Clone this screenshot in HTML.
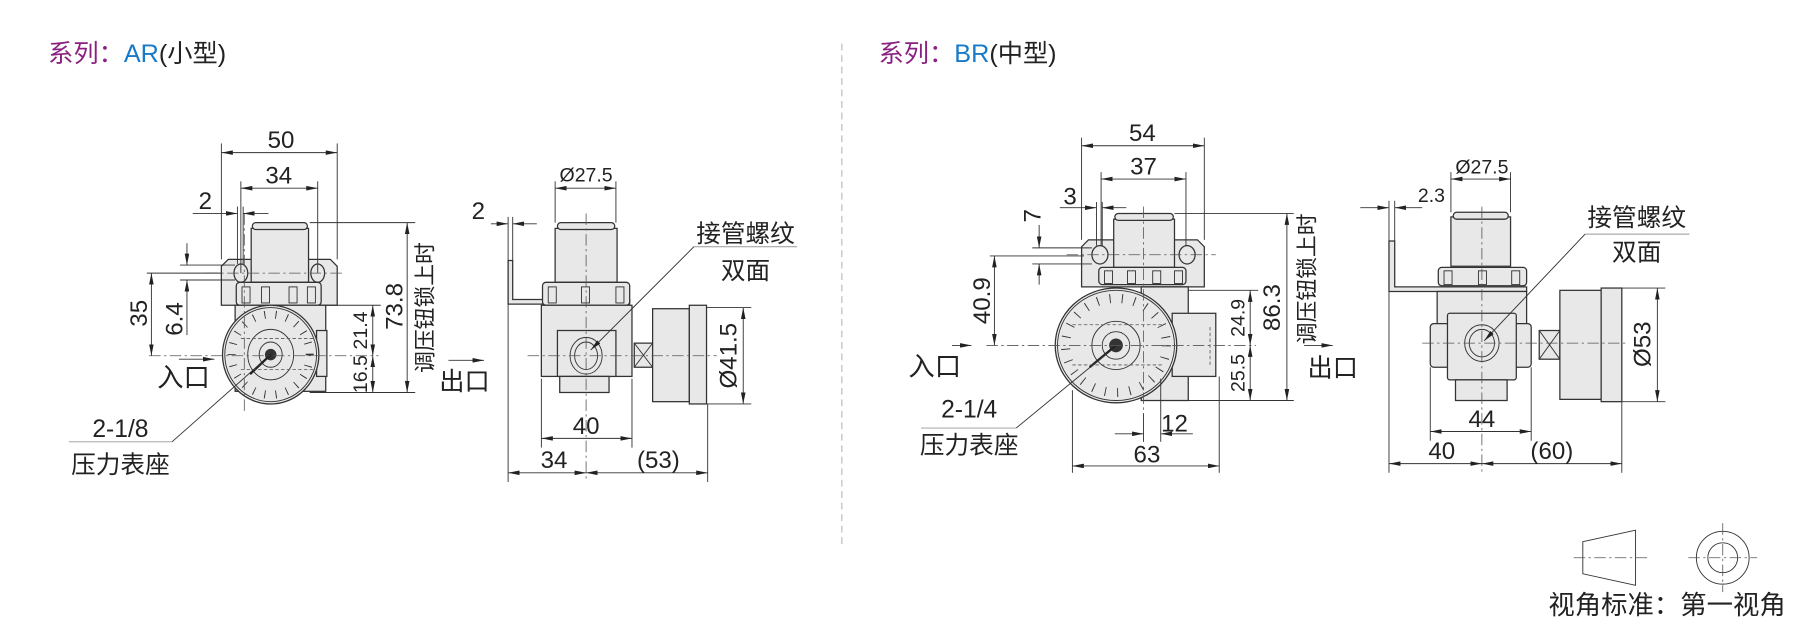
<!DOCTYPE html>
<html><head><meta charset="utf-8"><style>
html,body{margin:0;padding:0;background:#fff;}
svg{display:block;}
text{font-family:"Liberation Sans","Noto Sans CJK SC",sans-serif;fill:#222;}
.d{font-size:21px;}
.s{font-size:17px;}
.c{font-size:21.5px;}
.p{fill:#e8e8e8;stroke:#333;stroke-width:1.1;}
.l{stroke:#333;stroke-width:0.8;fill:none;}
.cl{stroke:#555;stroke-width:0.7;stroke-dasharray:10 3 2 3;fill:none;}
.hd{stroke:#555;stroke-width:0.7;stroke-dasharray:3 2;fill:none;}
</style></head><body>
<svg width="1795" height="622" viewBox="0 0 1565 542" preserveAspectRatio="none" xmlns="http://www.w3.org/2000/svg">
<defs>
<marker id="a" viewBox="0 0 10 4" refX="10" refY="2" markerWidth="10" markerHeight="4" orient="auto-start-reverse" markerUnits="userSpaceOnUse"><path d="M0,0L10,2L0,4z" fill="#222"/></marker>
</defs>
<text x="42" y="54" style="font-size:22px"><tspan style="fill:#8a2080">系列：</tspan><tspan style="fill:#1a7ac8">AR</tspan>(小型)</text>
<text x="766" y="54" style="font-size:22px"><tspan style="fill:#8a2080">系列：</tspan><tspan style="fill:#1a7ac8">BR</tspan>(中型)</text>
<line x1="734" y1="38" x2="734" y2="478" stroke="#aaa" stroke-width="0.8" stroke-dasharray="6 4"/>

<!-- ===== AR FRONT ===== -->
<g>
<path class="p" d="M193,266 V232 L199,226 H288 L294,232 V266 Z"/>
<ellipse cx="210" cy="238" rx="6" ry="8" class="p"/><ellipse cx="277" cy="238" rx="6" ry="8" class="p"/>
<rect class="p" x="219" y="199" width="50" height="47"/>
<rect class="p" x="220" y="194" width="48" height="6" rx="3"/>
<rect class="p" x="206" y="246" width="74" height="20" rx="3"/>
<g class="l"><rect x="211" y="250" width="7" height="14"/><rect x="228" y="250" width="7" height="14"/><rect x="252" y="250" width="7" height="14"/><rect x="268" y="250" width="7" height="14"/></g>
<rect class="p" x="205" y="266" width="79" height="75"/>
<rect class="p" x="276" y="288" width="9" height="40"/>
<ellipse class="p" cx="236" cy="309" rx="42" ry="43"/>
<ellipse class="l" cx="236" cy="309" rx="40" ry="41"/>
<ellipse cx="236" cy="309" rx="34" ry="35" fill="none" stroke="#333" stroke-width="7" stroke-dasharray="0.8 9"/>
<ellipse class="l" cx="236" cy="309" rx="20" ry="22"/>
<ellipse class="l" cx="236" cy="309" rx="10" ry="11"/>
<circle cx="236" cy="309" r="5" fill="#333"/>
<line x1="236" y1="309" x2="218" y2="326" stroke="#222" stroke-width="2"/>
<line class="hd" x1="210" y1="295" x2="275" y2="295"/><line class="hd" x1="210" y1="322" x2="275" y2="322"/>
<line class="cl" x1="213" y1="186" x2="213" y2="358"/>
<line class="cl" x1="130" y1="310" x2="330" y2="310"/>
<line class="cl" x1="180" y1="238" x2="300" y2="238"/>
<g class="l">
<line x1="193" y1="125" x2="193" y2="226"/><line x1="294" y1="125" x2="294" y2="226"/>
<line x1="193" y1="133" x2="294" y2="133" marker-start="url(#a)" marker-end="url(#a)"/>
<line x1="210" y1="158" x2="210" y2="238"/><line x1="277" y1="158" x2="277" y2="238"/>
<line x1="210" y1="164" x2="277" y2="164" marker-start="url(#a)" marker-end="url(#a)"/>
<line x1="207" y1="180" x2="207" y2="230"/><line x1="212" y1="180" x2="212" y2="230"/>
<line x1="168" y1="186" x2="207" y2="186" marker-end="url(#a)"/><line x1="234" y1="186" x2="212" y2="186" marker-end="url(#a)"/>
<line x1="157" y1="231" x2="205" y2="231"/><line x1="157" y1="244" x2="205" y2="244"/>
<line x1="163" y1="212" x2="163" y2="231" marker-end="url(#a)"/><line x1="163" y1="292" x2="163" y2="244" marker-end="url(#a)"/>
<line x1="128" y1="238" x2="193" y2="238"/>
<line x1="132" y1="238" x2="132" y2="310" marker-start="url(#a)" marker-end="url(#a)"/>
<line x1="270" y1="194" x2="362" y2="194"/><line x1="284" y1="266" x2="332" y2="266"/><line x1="270" y1="342" x2="362" y2="342"/>
<line x1="325" y1="266" x2="325" y2="310" marker-start="url(#a)" marker-end="url(#a)"/>
<line x1="325" y1="310" x2="325" y2="342" marker-start="url(#a)" marker-end="url(#a)"/>
<line x1="355" y1="194" x2="355" y2="342" marker-start="url(#a)" marker-end="url(#a)"/>
<line x1="156" y1="313" x2="187" y2="313" marker-end="url(#a)"/>
<line x1="391" y1="314" x2="422" y2="314" marker-end="url(#a)"/>
<line x1="60" y1="385" x2="150" y2="385" stroke="#999"/><line x1="150" y1="385" x2="228" y2="316"/>
</g>
<text class="d" x="245" y="129" text-anchor="middle">50</text>
<text class="d" x="243" y="160" text-anchor="middle">34</text>
<text class="d" x="179" y="182" text-anchor="middle">2</text>
<text class="d" transform="translate(128,273) rotate(-90)" text-anchor="middle">35</text>
<text class="d" transform="translate(159,278) rotate(-90)" text-anchor="middle">6.4</text>
<text class="s" transform="translate(320,288) rotate(-90)" text-anchor="middle">21.4</text>
<text class="s" transform="translate(320,326) rotate(-90)" text-anchor="middle">16.5</text>
<text class="d" transform="translate(351,267) rotate(-90)" text-anchor="middle">73.8</text>
<text transform="translate(377,268) rotate(-90)" text-anchor="middle" style="font-size:19px">调压钮锁上时</text>
<text x="160" y="337" text-anchor="middle" style="font-size:23px">入口</text>
<text x="405" y="340" text-anchor="middle" style="font-size:22px">出口</text>
<text class="c" x="105" y="381" text-anchor="middle">2-1/8</text>
<text class="c" x="105" y="412" text-anchor="middle">压力表座</text>
</g>

<!-- ===== AR SIDE ===== -->
<g>
<path class="p" d="M443,227 H447 V261 H549 V265 H443 Z"/>
<rect class="p" x="484" y="199" width="54" height="47"/>
<rect class="p" x="486" y="194" width="50" height="6" rx="3"/>
<rect class="p" x="473" y="246" width="76" height="20" rx="3"/>
<g class="l"><rect x="478" y="250" width="7" height="14"/><rect x="507" y="250" width="7" height="14"/><rect x="537" y="250" width="7" height="14"/></g>
<rect class="p" x="472" y="266" width="79" height="62"/>
<rect class="p" x="486" y="288" width="51" height="40"/>
<rect class="p" x="488" y="328" width="43" height="14"/>
<ellipse class="l" cx="511" cy="310" rx="14" ry="16"/><ellipse class="l" cx="511" cy="310" rx="10" ry="12"/>
<rect class="p" x="553" y="299" width="16" height="21"/>
<path class="l" d="M553,299 L569,320 M569,299 L553,320"/>
<rect class="p" x="569" y="269" width="32" height="81"/>
<rect class="p" x="601" y="266" width="15" height="86"/>
<line class="cl" x1="511" y1="186" x2="511" y2="420"/>
<line class="cl" x1="460" y1="310" x2="625" y2="310"/>
<g class="l">
<line x1="484" y1="158" x2="484" y2="194"/><line x1="537" y1="158" x2="537" y2="194"/>
<line x1="484" y1="164" x2="537" y2="164" marker-start="url(#a)" marker-end="url(#a)"/>
<line x1="443" y1="189" x2="443" y2="420"/><line x1="447" y1="189" x2="447" y2="227"/>
<line x1="428" y1="195" x2="443" y2="195" marker-end="url(#a)"/><line x1="468" y1="195" x2="447" y2="195" marker-end="url(#a)"/>
<line x1="472" y1="330" x2="472" y2="390"/><line x1="551" y1="330" x2="551" y2="390"/>
<line x1="472" y1="382" x2="551" y2="382" marker-start="url(#a)" marker-end="url(#a)"/>
<line x1="617" y1="352" x2="617" y2="420"/>
<line x1="443" y1="412" x2="511" y2="412" marker-start="url(#a)" marker-end="url(#a)"/>
<line x1="511" y1="412" x2="617" y2="412" marker-start="url(#a)" marker-end="url(#a)"/>
<line x1="616" y1="268" x2="655" y2="268"/><line x1="616" y1="352" x2="655" y2="352"/>
<line x1="648" y1="268" x2="648" y2="352" marker-start="url(#a)" marker-end="url(#a)"/>
<line x1="605" y1="215" x2="695" y2="215" stroke="#999"/><line x1="605" y1="215" x2="515" y2="305" marker-end="url(#a)"/>
</g>
<text class="s" x="511" y="158" text-anchor="middle">Ø27.5</text>
<text class="d" x="417" y="191" text-anchor="middle">2</text>
<text class="d" x="511" y="378" text-anchor="middle">40</text>
<text class="d" x="483" y="408" text-anchor="middle">34</text>
<text class="d" x="574" y="408" text-anchor="middle">(53)</text>
<text class="d" transform="translate(642,310) rotate(-90)" text-anchor="middle">Ø41.5</text>
<text class="c" x="650" y="211" text-anchor="middle">接管螺纹</text>
<text class="c" x="650" y="243" text-anchor="middle">双面</text>
</g>

<!-- ===== BR FRONT ===== -->
<g>
<path class="p" d="M943,250 V215 L949,209 H1044 L1050,215 V250 Z"/>
<ellipse cx="959" cy="222" rx="7" ry="8" class="p"/><ellipse cx="1035" cy="222" rx="7" ry="8" class="p"/>
<rect class="p" x="971" y="191" width="53" height="42"/>
<rect class="p" x="972" y="186" width="51" height="6" rx="3"/>
<rect class="p" x="958" y="233" width="76" height="15" rx="3"/>
<g class="l"><rect x="963" y="236" width="7" height="11"/><rect x="983" y="236" width="7" height="11"/><rect x="1005" y="236" width="7" height="11"/><rect x="1024" y="236" width="7" height="11"/></g>
<rect class="p" x="995" y="250" width="41" height="99"/>
<rect class="p" x="1022" y="273" width="38" height="55"/>
<line class="hd" x1="1055" y1="285" x2="1055" y2="318"/>
<ellipse class="p" cx="973" cy="301" rx="53" ry="50"/>
<ellipse class="l" cx="973" cy="301" rx="51" ry="48"/>
<ellipse cx="973" cy="301" rx="44" ry="41" fill="none" stroke="#333" stroke-width="8" stroke-dasharray="0.8 10"/>
<ellipse class="l" cx="973" cy="301" rx="21" ry="21"/><ellipse class="l" cx="973" cy="301" rx="12" ry="12"/>
<circle cx="973" cy="301" r="6" fill="#333"/>
<line x1="973" y1="301" x2="950" y2="320" stroke="#222" stroke-width="2"/>
<line class="hd" x1="935" y1="283" x2="1015" y2="283"/><line class="hd" x1="935" y1="318" x2="1015" y2="318"/>
<line class="cl" x1="997" y1="180" x2="997" y2="360"/>
<line class="cl" x1="860" y1="301" x2="1095" y2="301"/>
<line class="cl" x1="930" y1="222" x2="1060" y2="222"/>
<g class="l">
<line x1="943" y1="120" x2="943" y2="209"/><line x1="1050" y1="120" x2="1050" y2="209"/>
<line x1="943" y1="127" x2="1050" y2="127" marker-start="url(#a)" marker-end="url(#a)"/>
<line x1="960" y1="150" x2="960" y2="214"/><line x1="1034" y1="150" x2="1034" y2="214"/>
<line x1="960" y1="156" x2="1034" y2="156" marker-start="url(#a)" marker-end="url(#a)"/>
<line x1="956" y1="176" x2="956" y2="214"/><line x1="961" y1="176" x2="961" y2="214"/>
<line x1="924" y1="181" x2="956" y2="181" marker-end="url(#a)"/><line x1="982" y1="181" x2="961" y2="181" marker-end="url(#a)"/>
<line x1="900" y1="216" x2="952" y2="216"/><line x1="900" y1="230" x2="952" y2="230"/>
<line x1="906" y1="196" x2="906" y2="216" marker-end="url(#a)"/><line x1="906" y1="248" x2="906" y2="230" marker-end="url(#a)"/>
<line x1="863" y1="223" x2="945" y2="223"/>
<line x1="867" y1="223" x2="867" y2="301" marker-start="url(#a)" marker-end="url(#a)"/>
<line x1="1024" y1="186" x2="1128" y2="186"/><line x1="1036" y1="253" x2="1097" y2="253"/><line x1="1036" y1="349" x2="1128" y2="349"/>
<line x1="1090" y1="253" x2="1090" y2="301" marker-start="url(#a)" marker-end="url(#a)"/>
<line x1="1090" y1="301" x2="1090" y2="349" marker-start="url(#a)" marker-end="url(#a)"/>
<line x1="1122" y1="186" x2="1122" y2="349" marker-start="url(#a)" marker-end="url(#a)"/>
<line x1="830" y1="301" x2="847" y2="301" marker-end="url(#a)"/>
<line x1="1137" y1="301" x2="1162" y2="301" marker-end="url(#a)"/>
<line x1="935" y1="340" x2="935" y2="412"/><line x1="1063" y1="328" x2="1063" y2="412"/>
<line x1="997" y1="360" x2="997" y2="385"/><line x1="1012" y1="330" x2="1012" y2="385"/>
<line x1="972" y1="378" x2="997" y2="378" marker-end="url(#a)"/><line x1="1040" y1="378" x2="1012" y2="378" marker-end="url(#a)"/>
<line x1="935" y1="406" x2="1063" y2="406" marker-start="url(#a)" marker-end="url(#a)"/>
<line x1="803" y1="373" x2="886" y2="373" stroke="#999"/><line x1="886" y1="373" x2="965" y2="308"/>
</g>
<text class="d" x="996" y="123" text-anchor="middle">54</text>
<text class="d" x="997" y="152" text-anchor="middle">37</text>
<text class="d" x="933" y="178" text-anchor="middle">3</text>
<text class="d" transform="translate(907,188) rotate(-90)" text-anchor="middle">7</text>
<text class="d" transform="translate(863,262) rotate(-90)" text-anchor="middle">40.9</text>
<text class="s" transform="translate(1085,277) rotate(-90)" text-anchor="middle">24.9</text>
<text class="s" transform="translate(1085,325) rotate(-90)" text-anchor="middle">25.5</text>
<text class="d" transform="translate(1116,268) rotate(-90)" text-anchor="middle">86.3</text>
<text transform="translate(1146,243) rotate(-90)" text-anchor="middle" style="font-size:19px">调压钮锁上时</text>
<text x="815" y="327" text-anchor="middle" style="font-size:23px">入口</text>
<text x="1162" y="328" text-anchor="middle" style="font-size:22px">出口</text>
<text class="c" x="845" y="364" text-anchor="middle">2-1/4</text>
<text class="c" x="845" y="395" text-anchor="middle">压力表座</text>
<text class="d" x="1024" y="376" text-anchor="middle">12</text>
<text class="d" x="1000" y="403" text-anchor="middle">63</text>
</g>

<!-- ===== BR SIDE ===== -->
<g>
<path class="p" d="M1211,210 H1216 V250 H1331 V254 H1211 Z"/>
<rect class="p" x="1265" y="189" width="52" height="43"/>
<rect class="p" x="1267" y="185" width="48" height="6" rx="3"/>
<rect class="p" x="1254" y="233" width="77" height="16" rx="3"/>
<g class="l"><rect x="1259" y="236" width="7" height="12"/><rect x="1289" y="236" width="7" height="12"/><rect x="1318" y="236" width="7" height="12"/></g>
<rect class="p" x="1253" y="254" width="78" height="30"/>
<rect class="p" x="1247" y="282" width="88" height="38" rx="3"/>
<rect class="p" x="1262" y="273" width="60" height="58" rx="2"/>
<rect class="p" x="1269" y="331" width="45" height="18"/>
<ellipse class="l" cx="1292" cy="299" rx="15" ry="16"/><ellipse class="l" cx="1292" cy="299" rx="11" ry="12"/>
<rect class="p" x="1342" y="288" width="18" height="25"/>
<path class="l" d="M1342,288 L1360,313 M1360,288 L1342,313"/>
<rect class="p" x="1360" y="253" width="36" height="95"/>
<rect class="p" x="1396" y="251" width="18" height="99"/>
<line class="cl" x1="1292" y1="180" x2="1292" y2="412"/>
<line class="cl" x1="1240" y1="299" x2="1420" y2="299"/>
<g class="l">
<line x1="1265" y1="150" x2="1265" y2="185"/><line x1="1317" y1="150" x2="1317" y2="185"/>
<line x1="1265" y1="156" x2="1317" y2="156" marker-start="url(#a)" marker-end="url(#a)"/>
<line x1="1211" y1="175" x2="1211" y2="412"/><line x1="1216" y1="175" x2="1216" y2="210"/>
<line x1="1186" y1="181" x2="1211" y2="181" marker-end="url(#a)"/><line x1="1240" y1="181" x2="1216" y2="181" marker-end="url(#a)"/>
<line x1="1247" y1="320" x2="1247" y2="384"/><line x1="1335" y1="320" x2="1335" y2="384"/>
<line x1="1247" y1="376" x2="1335" y2="376" marker-start="url(#a)" marker-end="url(#a)"/>
<line x1="1414" y1="350" x2="1414" y2="412"/>
<line x1="1211" y1="404" x2="1292" y2="404" marker-start="url(#a)" marker-end="url(#a)"/>
<line x1="1292" y1="404" x2="1414" y2="404" marker-start="url(#a)" marker-end="url(#a)"/>
<line x1="1414" y1="251" x2="1452" y2="251"/><line x1="1414" y1="350" x2="1452" y2="350"/>
<line x1="1445" y1="251" x2="1445" y2="350" marker-start="url(#a)" marker-end="url(#a)"/>
<line x1="1382" y1="204" x2="1473" y2="204" stroke="#999"/><line x1="1382" y1="204" x2="1294" y2="297" marker-end="url(#a)"/>
</g>
<text class="s" x="1292" y="151" text-anchor="middle">Ø27.5</text>
<text class="s" x="1248" y="176" text-anchor="middle">2.3</text>
<text class="d" x="1292" y="372" text-anchor="middle">44</text>
<text class="d" x="1257" y="400" text-anchor="middle">40</text>
<text class="d" x="1353" y="400" text-anchor="middle">(60)</text>
<text class="d" transform="translate(1439,300) rotate(-90)" text-anchor="middle">Ø53</text>
<text class="c" x="1427" y="197" text-anchor="middle">接管螺纹</text>
<text class="c" x="1427" y="227" text-anchor="middle">双面</text>
</g>

<path class="l" stroke-width="1" d="M1380,472 L1426,462 V510 L1380,500 Z"/>
<line class="cl" x1="1372" y1="486" x2="1436" y2="486"/>
<circle class="l" stroke-width="1" cx="1502" cy="486" r="23"/>
<circle class="l" stroke-width="1" cx="1502" cy="486" r="13"/>
<line class="cl" x1="1472" y1="486" x2="1532" y2="486"/>
<line class="cl" x1="1502" y1="456" x2="1502" y2="516"/>
<text x="1350" y="535" style="font-size:23px">视角标准：第一视角</text>
</svg>
</body></html>
